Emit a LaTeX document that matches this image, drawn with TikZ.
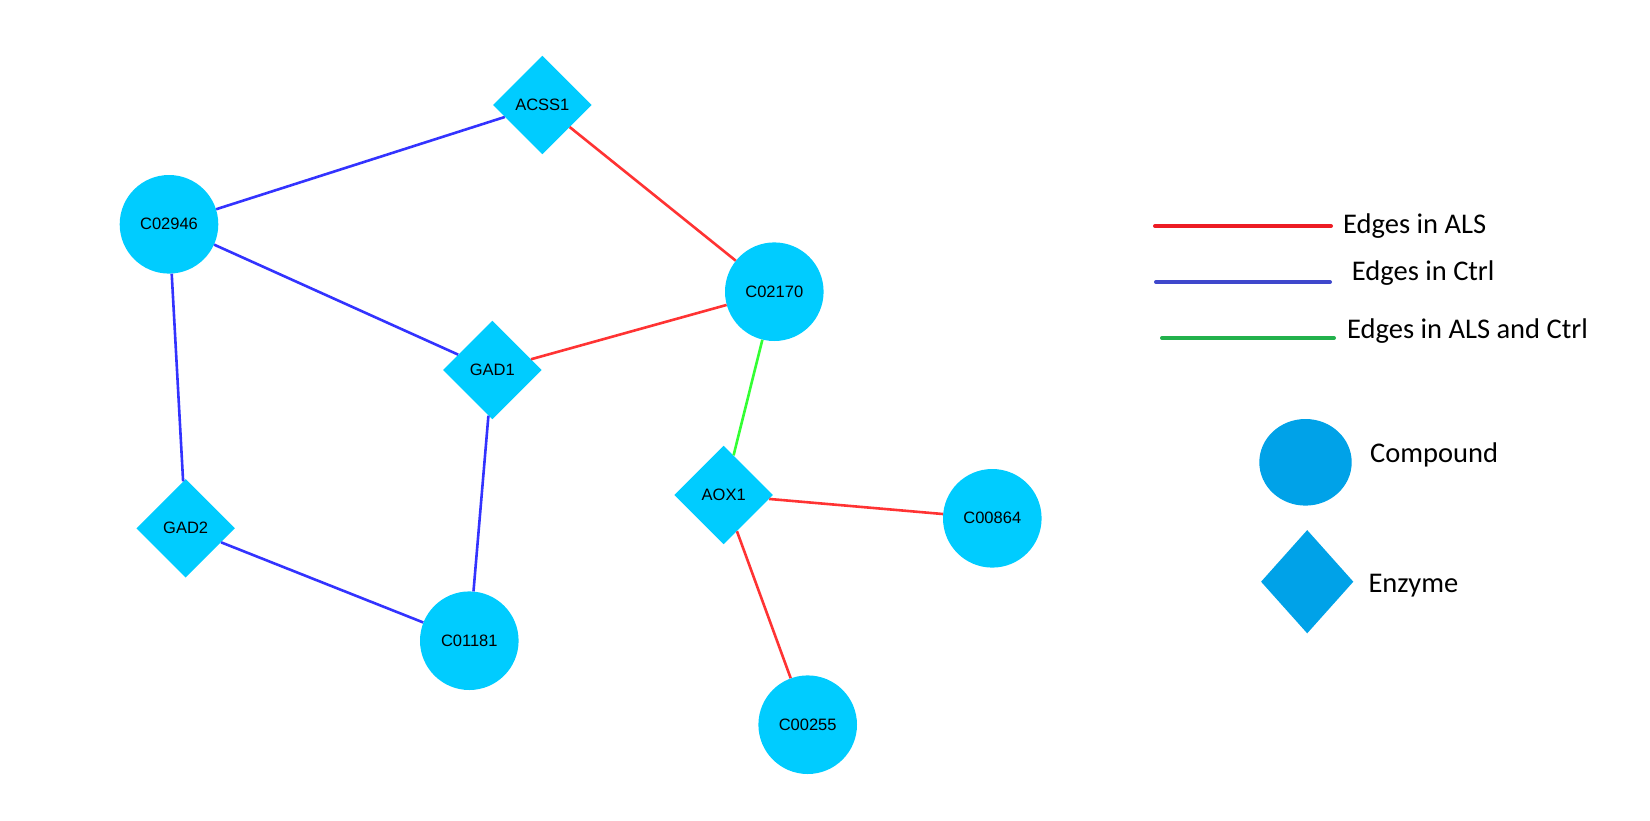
\documentclass[tikz,border=0pt]{standalone}
\usepackage{fontspec}
\setmainfont{Liberation Sans}
\newfontfamily\legendfont{Carlito}
\usetikzlibrary{shapes.geometric}

\definecolor{nodefill}{HTML}{00CCFF}
\definecolor{keyfill}{HTML}{00A2E8}
\definecolor{alsedge}{HTML}{FF3333}
\definecolor{ctrledge}{HTML}{3333FF}
\definecolor{bothedge}{HTML}{33FF33}
\definecolor{keyred}{HTML}{ED1C24}
\definecolor{keyblue}{HTML}{3F48CC}
\definecolor{keygreen}{HTML}{22B14C}

\tikzset{
  compound/.style={circle, fill=nodefill, draw=none, minimum size=98.6pt,
    inner sep=0pt, font=\fontsize{16.5}{18}\selectfont},
  enzyme/.style={diamond, aspect=1, fill=nodefill, draw=none,
    minimum width=98.6pt, minimum height=98.6pt, inner sep=0pt,
    font=\fontsize{16.5}{18}\selectfont},
  edge/.style={line width=2.6pt},
  als/.style={edge, alsedge},
  ctrl/.style={edge, ctrledge},
  both/.style={edge, bothedge},
  keyline/.style={line width=4pt, line cap=round},
  keytext/.style={anchor=base west, inner sep=0pt,
    font=\legendfont\fontsize{28.5}{32}\selectfont},
}

\begin{document}
\begin{tikzpicture}[x=1pt, y=-1pt]
  \useasboundingbox (0,0) rectangle (1650,820);

  % network nodes
  \node[enzyme]   (acss1)  at (542.3,105)   {ACSS1};
  \node[compound] (c02946) at (169,224.3)   {C02946};
  \node[enzyme]   (gad1)   at (492.3,370)   {GAD1};
  \node[compound] (c02170) at (774.3,291.7) {C02170};
  \node[enzyme]   (aox1)   at (723.7,495)   {AOX1};
  \node[compound] (c00864) at (992.3,518.3) {C00864};
  \node[compound] (c00255) at (807.7,724.7) {C00255};
  \node[enzyme]   (gad2)   at (185.7,528.3) {GAD2};
  \node[compound] (c01181) at (469.3,640.7) {C01181};

  % connectors
  \draw[ctrl] (c02946) -- (acss1);
  \draw[ctrl] (c02946) -- (gad1);
  \draw[ctrl] (c02946) -- (gad2);
  \draw[ctrl] (gad1) -- (c01181);
  \draw[ctrl] (gad2) -- (c01181);
  \draw[als]  (acss1) -- (c02170);
  \draw[als]  (gad1) -- (c02170);
  \draw[both] (c02170) -- (aox1);
  \draw[als]  (aox1) -- (c00864);
  \draw[als]  (aox1) -- (c00255);

  % legend: edge colours
  \coordinate (r1) at (1155,226);
  \coordinate (r2) at (1331,226);
  \coordinate (b1) at (1156,282);
  \coordinate (b2) at (1330,282);
  \coordinate (g1) at (1162,338);
  \coordinate (g2) at (1334,338);
  \draw[keyline, keyred]   (r1) -- (r2);
  \draw[keyline, keyblue]  (b1) -- (b2);
  \draw[keyline, keygreen] (g1) -- (g2);
  \node[keytext] (tals)  at (1343,233.3)  {Edges in ALS};
  \node[keytext] (tctrl) at (1351.7,280)  {Edges in Ctrl};
  \node[keytext] (tboth) at (1347,338.3)  {Edges in ALS and Ctrl};

  % legend: node shapes
  \node[ellipse, fill=keyfill, minimum width=92.4pt, minimum height=86.6pt,
    inner sep=0pt] (kcomp) at (1305.5,462.3) {};
  \node[diamond, fill=keyfill, minimum width=92.4pt, minimum height=103.4pt,
    inner sep=0pt] (kenz) at (1307.2,581.7) {};
  \node[keytext] (tcomp) at (1370,462.7)   {Compound};
  \node[keytext] (tenz)  at (1368.3,592.3) {Enzyme};
\end{tikzpicture}
\end{document}
